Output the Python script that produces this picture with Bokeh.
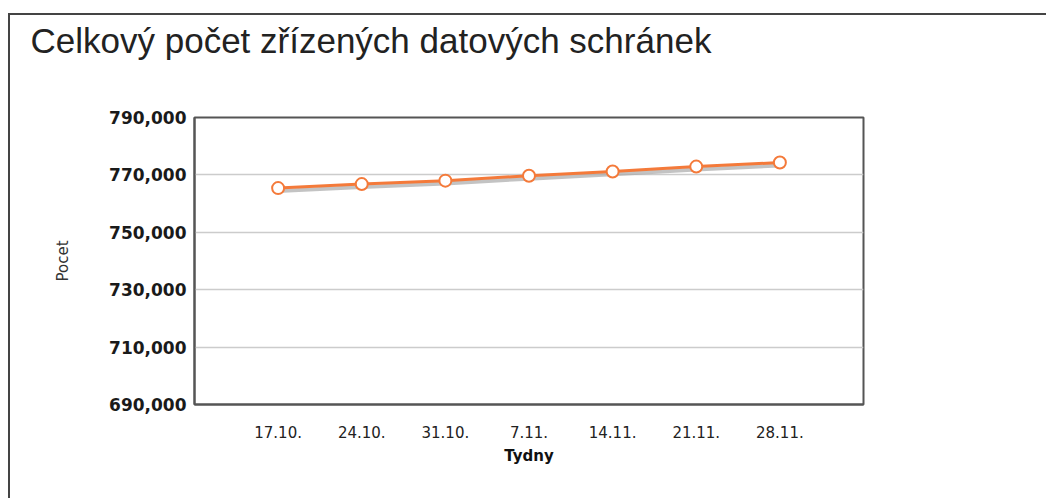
from bokeh.plotting import figure
from bokeh.models import FixedTicker, NumeralTickFormatter
from bokeh.embed import file_html
from bokeh.resources import INLINE

title_text = "Celkový počet zřízených datových schránek"
weeks = ["17.10.", "24.10.", "31.10.", "7.11.", "14.11.", "21.11.", "28.11."]
counts = [765400, 766800, 768000, 769700, 771200, 772900, 774300]
y_ticks = [690000, 710000, 730000, 750000, 770000, 790000]

xs = list(range(len(weeks)))
shadow = [v - 1000 for v in counts]

p = figure(width=1038, height=485, output_backend="svg", toolbar_location=None,
           x_range=(-1, len(weeks)), y_range=(690000, 790000),
           min_border_left=184, min_border_right=185, min_border_top=101, min_border_bottom=96)
p.margin = (13, 0, 0, 8)
p.styles = {"border-top": "2px solid #444444", "border-left": "2px solid #444444"}

p.title.text = title_text + "\n"
p.title.text_font = "Liberation Sans"
p.title.text_font_size = "35px"
p.title.text_font_style = "normal"
p.title.text_color = "#222222"
p.title.text_line_height = 1.3
p.title.align = "left"
p.title.vertical_align = "top"
p.title.offset = -164
p.title.standoff = 10

p.outline_line_color = "#555555"
p.outline_line_width = 2
p.background_fill_color = "white"
p.border_fill_color = "white"

p.xgrid.visible = False
p.ygrid.ticker = FixedTicker(ticks=y_ticks)
p.ygrid.grid_line_color = "#cccccc"
p.ygrid.grid_line_width = 1.5

p.yaxis.ticker = FixedTicker(ticks=y_ticks)
p.yaxis.formatter = NumeralTickFormatter(format="0,0")
p.yaxis.major_label_text_font = "DejaVu Sans"
p.yaxis.major_label_text_font_size = "17px"
p.yaxis.major_label_text_font_style = "bold"
p.yaxis.major_label_text_color = "#1a1a1a"
p.yaxis.major_tick_line_color = None
p.yaxis.minor_tick_line_color = None
p.yaxis.axis_line_color = "#555555"
p.yaxis.axis_line_width = 2
p.yaxis.major_label_standoff = 2
p.yaxis.axis_label = "Pocet"
p.yaxis.axis_label_text_font = "DejaVu Sans"
p.yaxis.axis_label_text_font_size = "15px"
p.yaxis.axis_label_text_font_style = "normal"
p.yaxis.axis_label_text_color = "#333333"
p.yaxis.axis_label_standoff = 34

p.xaxis.ticker = FixedTicker(ticks=xs)
p.xaxis.major_label_overrides = {i: w for i, w in enumerate(weeks)}
p.xaxis.major_label_text_font = "DejaVu Sans"
p.xaxis.major_label_text_font_size = "15px"
p.xaxis.major_label_text_color = "#222222"
p.xaxis.major_tick_line_color = None
p.xaxis.minor_tick_line_color = None
p.xaxis.axis_line_color = "#555555"
p.xaxis.axis_line_width = 2
p.xaxis.major_label_standoff = 15
p.xaxis.axis_label = "Tydny"
p.xaxis.axis_label_text_font = "DejaVu Sans"
p.xaxis.axis_label_text_font_size = "15px"
p.xaxis.axis_label_text_font_style = "bold"
p.xaxis.axis_label_text_color = "#111111"
p.xaxis.axis_label_standoff = 6

p.line(xs, shadow, line_color="#aaaaaa", line_width=4, line_alpha=0.7)
p.line(xs, counts, line_color="#f47a3a", line_width=3)
p.scatter(xs, counts, size=12, fill_color="white", line_color="#f47a3a", line_width=2)

open("out.html", "w").write(file_html(p, INLINE))
